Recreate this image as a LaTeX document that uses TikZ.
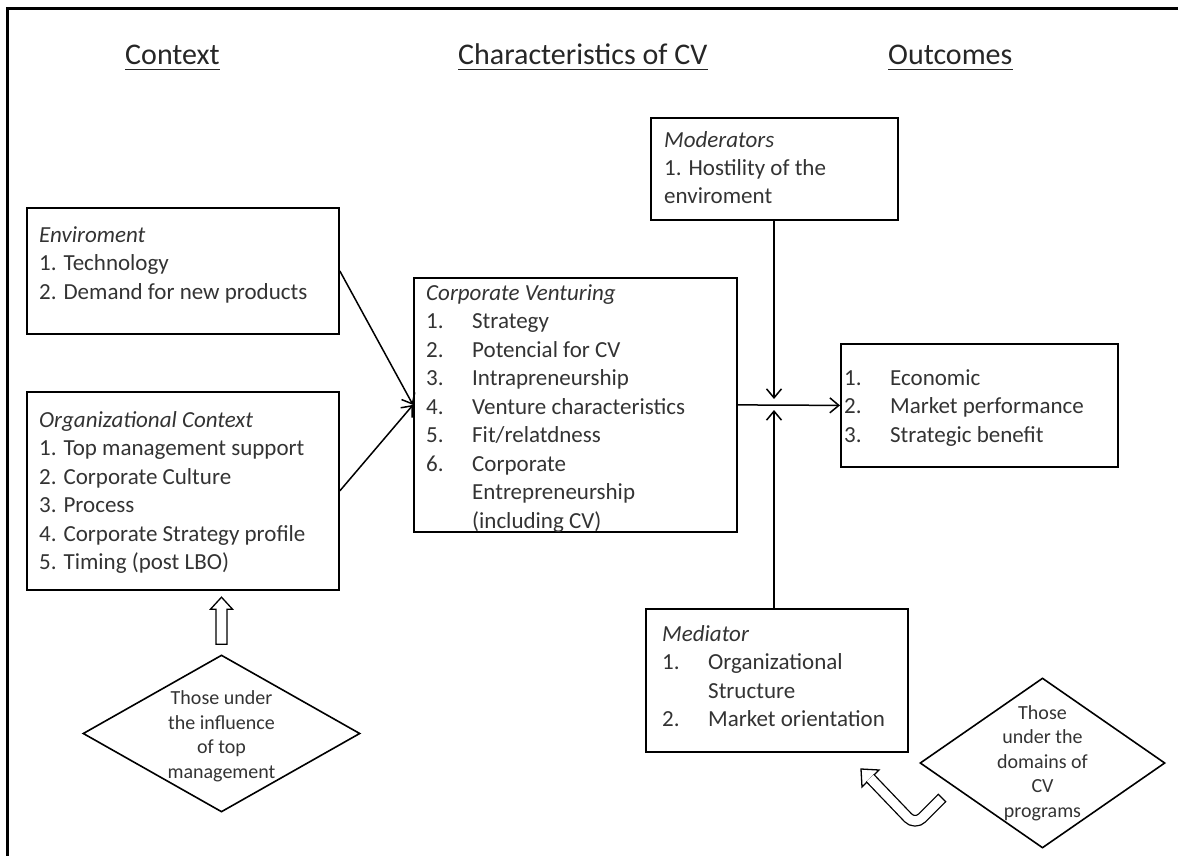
\documentclass[tikz,border=0pt]{standalone}
\usepackage{fontspec}
\setmainfont{Carlito}
\usetikzlibrary{shapes.geometric,arrows.meta,calc}
\begin{document}
\begin{tikzpicture}[x=1pt,y=-1pt,
  box/.style={draw=black, line width=1.8pt, rectangle, inner sep=0pt, anchor=north west},
  body/.style={inner sep=0pt, anchor=base west, text=black!80, font=\fontsize{23}{28.5}\selectfont},
  title/.style={inner sep=0pt, anchor=base west, text=black!85, font=\fontsize{30}{36}\selectfont},
  dia/.style={diamond, draw=black, line width=1.6pt, inner sep=0pt},
  diatext/.style={inner sep=0pt, align=center, text=black!80, font=\fontsize{20}{24.5}\selectfont},
  link/.style={line width=1.5pt, -{Straight Barb[length=9pt,width=15pt]}},
  hollow/.style={draw=black, line width=1.3pt, fill=white, line join=miter},
]
\useasboundingbox (0,0) rectangle (1178,856);

% outer frame (top and left edges)
\draw[line width=3pt] (7.5,860) -- (7.5,8.5) -- (1180,8.5);

% column titles
\node[title] (tctx) at (125,65) {Context};
\node[title] (tcv)  at (458,65) {Characteristics of CV};
\node[title] (tout) at (888,65) {Outcomes};
\foreach \t in {tctx,tcv,tout}
  \draw[line width=1.6pt, black!85] ([yshift=-4.5pt]\t.base west) -- ([yshift=-4.5pt]\t.base east);

% boxes
\node[box, minimum width=312pt, minimum height=126pt] (env) at (26,207) {};
\node[box, minimum width=312pt, minimum height=198pt] (org) at (26,391) {};
\node[box, minimum width=323pt, minimum height=254pt] (cv)  at (413,277) {};
\node[box, minimum width=247pt, minimum height=102pt] (mod) at (650,117) {};
\node[box, minimum width=277pt, minimum height=123pt] (out) at (840,343) {};
\node[box, minimum width=262pt, minimum height=143pt] (med) at (645,608) {};

% box contents
\node[body] (envtx) at (39,242) {\begin{tabular}[t]{@{}l@{}}
  \textit{Enviroment}\\
  1. Technology\\
  2. Demand for new products
\end{tabular}};

\node[body] (orgtx) at (39,427) {\begin{tabular}[t]{@{}l@{}}
  \textit{Organizational Context}\\
  1. Top management support\\
  2. Corporate Culture\\
  3. Process\\
  4. Corporate Strategy profile\\
  5. Timing (post LBO)
\end{tabular}};

\node[body] (cvtx) at (426,300) {\begin{tabular}[t]{@{}p{46pt}@{}l@{}}
  \multicolumn{2}{@{}l@{}}{\itshape Corporate Venturing}\\
  1. & Strategy\\
  2. & Potencial for CV\\
  3. & Intrapreneurship\\
  4. & Venture characteristics\\
  5. & Fit/relatdness\\
  6. & Corporate\\
     & Entrepreneurship\\
     & (including CV)
\end{tabular}};

\node[body] (modtx) at (664,147) {\begin{tabular}[t]{@{}l@{}}
  \textit{Moderators}\\
  1. Hostility of the\\
  enviroment
\end{tabular}};

\node[body] (outtx) at (844,385) {\begin{tabular}[t]{@{}p{46pt}@{}l@{}}
  1. & Economic\\
  2. & Market performance\\
  3. & Strategic benefit
\end{tabular}};

\node[body] (medtx) at (662,641) {\begin{tabular}[t]{@{}p{46pt}@{}l@{}}
  \multicolumn{2}{@{}l@{}}{\itshape Mediator}\\
  1. & Organizational\\
     & Structure\\
  2. & Market orientation
\end{tabular}};

% diamonds
\node[dia, minimum width=277pt, minimum height=157pt] (dtop) at (221.5,733.5) {};
\node[diatext] (dtoptx) at ([yshift=-3pt]dtop.center) {Those under\\the influence\\of top\\management};
\node[dia, minimum width=245pt, minimum height=170pt] (ddom) at (1042.5,763) {};
\node[diatext] (ddomtx) at (ddom.center) {Those\\under the\\domains of\\CV\\programs};

% connectors
\draw[link] (env.east) -- (cv.west);
\draw[link] (org.east) -- (cv.west);
\draw[link] (cv.east) -- (out.west);
\coordinate (jm) at (774,399);
\coordinate (jd) at (774,410);
\draw[link] (mod.south -| jm) -- (jm);
\draw[link] (med.north -| jd) -- (jd);

% hollow block arrow from the lower-left diamond up to the organizational box
\draw[hollow] ([yshift=10pt]dtop.north) ++(-5.5,0) -- ++(0,-35) -- ++(-5.5,0)
  -- ++(11,-12) -- ++(11,12) -- ++(-5.5,0) -- ++(0,35) -- cycle;

% hollow hook arrow pointing at the mediator box
\coordinate (uend) at (942,798);
\draw[hollow] (879,770) -- (861,769) -- (862,787) -- cycle;
\draw[line width=1.3pt, double=white, double distance=9pt, rounded corners=10pt]
  (uend) -- (915,825) -- (870,778);
\draw[line width=1.3pt] ($(uend)+(-4.1,-4.1)$) -- ($(uend)+(4.1,4.1)$);
\end{tikzpicture}
\end{document}
